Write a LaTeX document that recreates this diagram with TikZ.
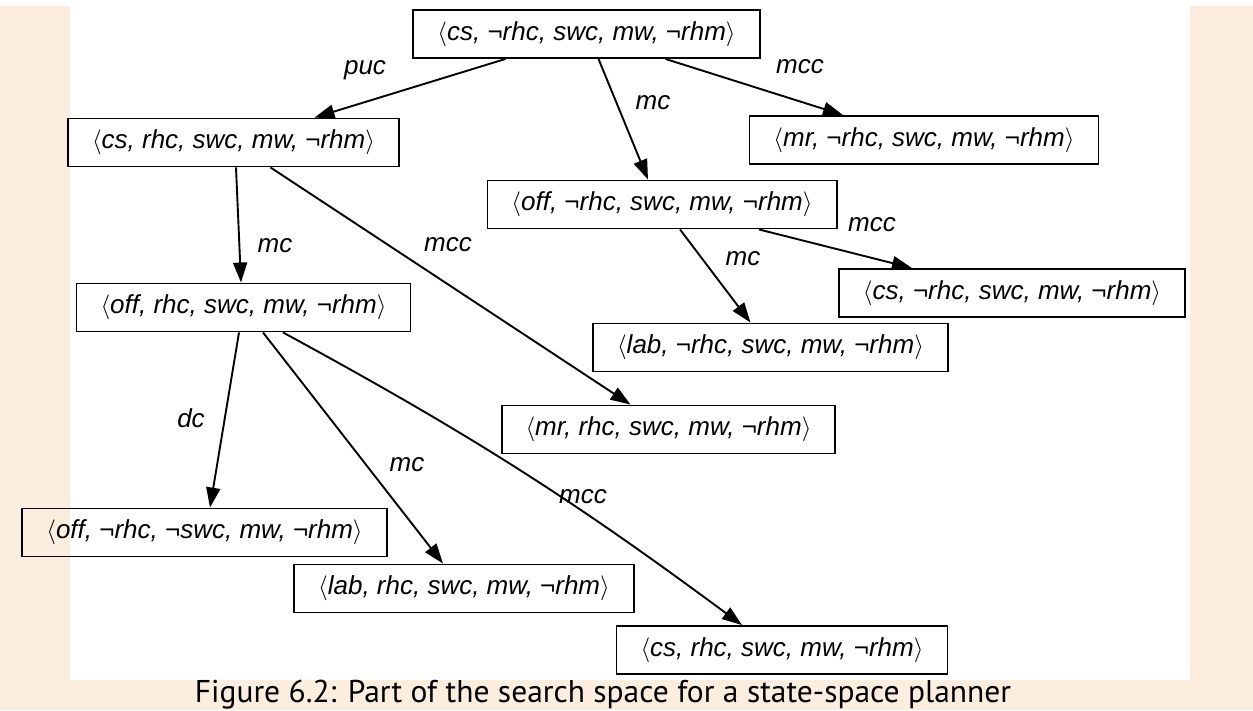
\documentclass[tikz,border=0pt]{standalone}
\usepackage{fontspec}
\setmainfont{Liberation Sans}
\newfontfamily\capfont{PT Sans}
\usetikzlibrary{arrows.meta}
\definecolor{pagebg}{RGB}{251,238,223}
\newcommand{\stt}[1]{$\langle$#1$\rangle$}
\tikzset{
  state/.style={draw, line width=1.9pt, minimum height=48pt, inner xsep=24pt,
    font=\fontsize{26}{30}\selectfont\itshape},
  arr/.style={-{Triangle[length=20pt,width=14pt]}, line width=1.9pt},
  lbl/.style={font=\fontsize{26}{30}\selectfont\itshape}
}
\begin{document}
\begin{tikzpicture}[x=1pt,y=-1pt]
  \useasboundingbox (0,0) rectangle (1253,710);
  % page background
  \fill[white] (0,0) rectangle (1253,710);
  \fill[pagebg] (0,6) rectangle (70,710);
  \fill[pagebg] (1190,6) rectangle (1253,710);
  \fill[pagebg] (0,680) rectangle (1253,710);

  % states
  \node[state] (root) at (586.5,34) {\stt{cs, ¬rhc, swc, mw, ¬rhm}};
  \node[state] (s2) at (233.5,142.5) {\stt{cs, rhc, swc, mw, ¬rhm}};
  \node[state] (s3) at (924,140) {\stt{mr, ¬rhc, swc, mw, ¬rhm}};
  \node[state] (s4) at (662,204.5) {\stt{off, ¬rhc, swc, mw, ¬rhm}};
  \node[state] (s5) at (1012,293) {\stt{cs, ¬rhc, swc, mw, ¬rhm}};
  \node[state] (s6) at (243.5,307.5) {\stt{off, rhc, swc, mw, ¬rhm}};
  \node[state] (s7) at (770.5,347.5) {\stt{lab, ¬rhc, swc, mw, ¬rhm}};
  \node[state] (s8) at (668.5,429.5) {\stt{mr, rhc, swc, mw, ¬rhm}};
  \node[state] (s9) at (204.5,532.5) {\stt{off, ¬rhc, ¬swc, mw, ¬rhm}};
  \node[state] (s10) at (464,588.5) {\stt{lab, rhc, swc, mw, ¬rhm}};
  \node[state] (s11) at (782,650) {\stt{cs, rhc, swc, mw, ¬rhm}};

  % actions
  \draw[arr] ([xshift=-81pt]root.south) -- ([xshift=81pt]s2.north);
  \draw[arr] ([xshift=12pt]root.south) -- ([xshift=-14pt]s4.north);
  \draw[arr] ([xshift=79pt]root.south) -- ([xshift=-81pt]s3.north);
  \draw[arr] ([xshift=2.5pt]s2.south) -- ([xshift=-2.5pt]s6.north);
  \draw[arr] ([xshift=37pt]s2.south) -- ([xshift=-38pt]s8.north);
  \draw[arr] ([xshift=18pt]s4.south) -- ([xshift=-20pt]s7.north);
  \draw[arr] ([xshift=97pt]s4.south) -- ([xshift=-100pt]s5.north);
  \draw[arr] ([xshift=-4.5pt]s6.south) -- ([xshift=5.5pt]s9.north);
  \draw[arr] ([xshift=19.5pt]s6.south) -- ([xshift=-21pt]s10.north);
  \draw[arr] ([xshift=39.5pt]s6.south) to[bend left=4] ([xshift=-40pt]s11.north);

  % action labels
  \node[lbl] (puc) at (365,70) {puc};
  \node[lbl] (mc1) at (653,103) {mc};
  \node[lbl] (mcc1) at (800,67) {mcc};
  \node[lbl] (mc2) at (275,246) {mc};
  \node[lbl] (mcc2) at (448,245) {mcc};
  \node[lbl] (mc3) at (743,259) {mc};
  \node[lbl] (mcc3) at (872,225) {mcc};
  \node[lbl] (dc) at (191,418) {dc};
  \node[lbl] (mc4) at (407,465) {mc};
  \node[lbl] (mcc4) at (583,497) {mcc};

  % caption
  \node[font=\capfont\fontsize{31.5}{34}\selectfont] (cap) at (603,695)
    {Figure 6.2: Part of the search space for a state-space planner};
\end{tikzpicture}
\end{document}
